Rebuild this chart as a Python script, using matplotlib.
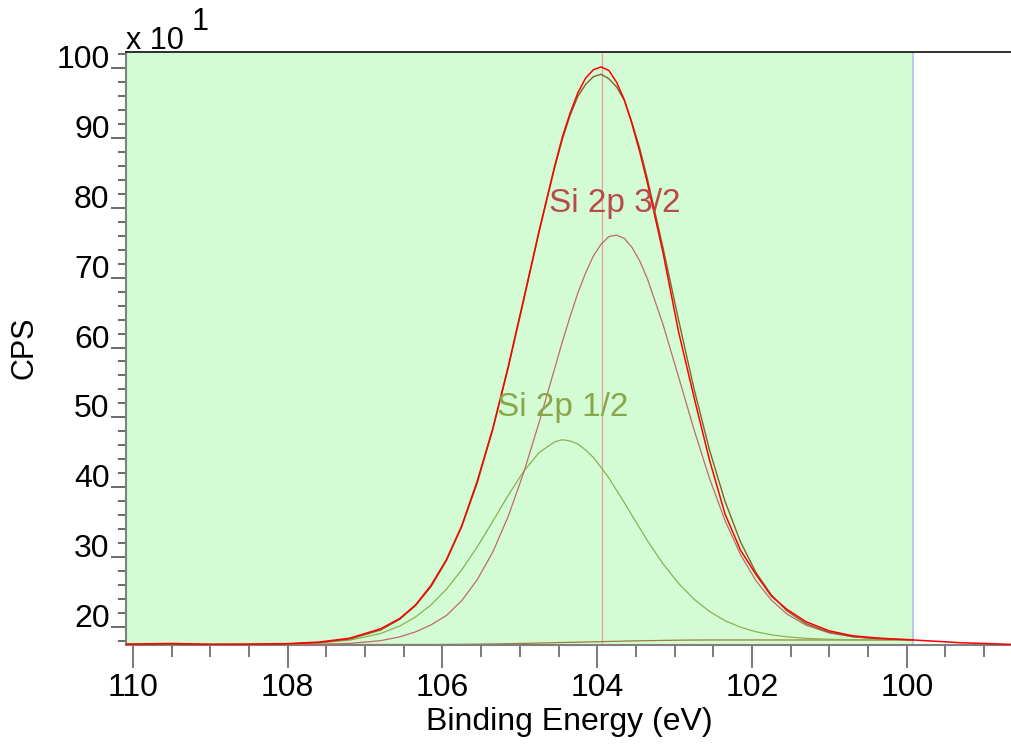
import matplotlib.pyplot as plt
from matplotlib.ticker import MultipleLocator, FuncFormatter

plt.rcParams['font.family'] = ['Liberation Sans', 'DejaVu Sans']

# Binding energy grid (eV) of the fitted region
be = [110.1, 109.5, 109.0, 108.5, 108.0, 107.6, 107.2, 106.8, 106.55, 106.35,
      106.15, 105.95, 105.75, 105.55, 105.35, 105.15, 104.95, 104.75,
      104.55, 104.45, 104.35, 104.25, 104.15, 104.05, 103.95, 103.85, 103.75,
      103.65, 103.55, 103.45, 103.35,
      103.15, 102.95, 102.75, 102.55, 102.35, 102.15, 101.95, 101.75, 101.55,
      101.3, 101.0, 100.7, 100.4, 100.1, 99.92]

# Shirley type background (CPS)
background = [174.5, 174.5, 174.5, 174.5, 174.5, 174.5, 174.5, 174.5, 174.5, 174.5,
              174.5, 174.6, 174.8, 175.0, 175.3, 175.7, 176.1, 176.6,
              177.1, 177.4, 177.6, 177.8, 178.1, 178.4, 178.6, 178.9, 179.1,
              179.4, 179.6, 179.8, 180.0,
              180.4, 180.7, 180.9, 181.0, 181.0, 181.0, 181.0, 181.0, 181.0,
              181.0, 181.0, 181.0, 181.0, 181.0, 181.0]

# Si 2p 3/2 component on top of background (CPS)
si2p32 = [174.5, 174.5, 174.5, 174.5, 174.6, 174.9, 176.1, 180.0, 185.5, 192.5,
          202.5, 216.0, 237.5, 267.5, 307.0, 358.2, 421.0, 493.1,
          570.1, 608.6, 644.5, 678.3, 707.0, 731.3, 748.1, 758.9, 761.1,
          756.3, 743.2, 723.9, 697.9,
          633.1, 558.3, 482.6, 412.6, 352.4, 303.6, 266.0, 238.1, 218.3,
          202.0, 191.0, 185.5, 182.9, 181.7, 181.4]

# Si 2p 1/2 component on top of background (CPS)
si2p12 = [174.5, 174.5, 174.5, 174.7, 175.2, 176.7, 180.7, 190.2, 201.1, 213.9,
          231.1, 253.6, 281.6, 314.5, 351.0, 388.4, 422.7, 449.6,
          464.9, 467.9, 466.1, 461.8, 453.2, 442.5, 428.3, 413.1, 395.4,
          377.9, 359.1, 341.2, 323.0,
          290.2, 262.2, 239.5, 221.9, 208.7, 199.3, 192.8, 188.4, 185.5,
          183.3, 182.0, 181.4, 181.2, 181.1, 181.0]

# Fit envelope (CPS)
envelope = [174.5, 174.5, 174.5, 174.7, 175.3, 177.1, 182.3, 195.2, 210.8, 230.0,
            257.1, 294.3, 343.6, 406.2, 482.4, 570.9, 667.6, 766.1,
            857.9, 898.6, 933.0, 960.0, 977.0, 988.0, 991.5, 985.0, 973.5,
            954.0, 922.0, 885.0, 840.9,
            742.9, 639.8, 541.2, 453.5, 380.1, 321.9, 277.8, 245.5, 222.8,
            204.3, 192.0, 185.9, 183.1, 181.8, 181.4]

# Measured spectrum (CPS)
data_be = be + [99.6, 99.3, 99.0, 98.6]
data_cps = [175.0, 176.0, 174.8, 175.0, 175.8, 178.0, 183.5, 197.0, 212.0, 231.0,
            259.0, 296.0, 345.0, 409.0, 484.0, 573.0, 670.0, 768.0,
            860.0, 902.0, 936.0, 965.0, 986.0, 998.0, 1002.0, 997.0, 980.0,
            955.0, 920.0, 880.0, 835.0,
            736.0, 623.0, 529.0, 439.0, 362.0, 310.0, 275.0, 244.0, 225.0,
            207.0, 194.0, 187.0, 184.0, 182.0, 181.0,
            179.0, 177.0, 176.0, 174.5]

region = (110.2, 99.92)
peak_marker = 103.94
pos32, pos12 = 103.77, 104.45

fig = plt.figure(figsize=(10.12, 7.48), dpi=100)
ax = fig.add_axes([126/1012, 1 - 645/748, 886/1012, 593/748])
ax.set_facecolor('white')

ax.axvspan(region[0], region[1], color='#d4fcd4', lw=0, zorder=0)
ax.axvline(region[1], color='#a8c4ec', lw=1.2, zorder=1)
ax.axvline(peak_marker, color='#e8a0a0', lw=0.9, zorder=1)

ax.plot(be, background, color='#a07a3a', lw=0.9, zorder=2)
ax.plot(be, si2p12, color='#8eb050', lw=0.9, zorder=3)
ax.plot(be, si2p32, color='#c06a6a', lw=0.9, zorder=3)
ax.plot(be, envelope, color='#7d6428', lw=1.0, zorder=4)
ax.plot(data_be, data_cps, color='#ff0000', lw=1.1, zorder=5)

ax.text(pos32, 794.5, 'Si 2p 3/2', color='#b94a4a', fontsize=24,
        ha='center', va='baseline', zorder=6)
ax.text(pos12, 501.9, 'Si 2p 1/2', color='#8aa64a', fontsize=24,
        ha='center', va='baseline', zorder=6)

ax.set_xlim(110.09, 98.64)
ax.set_ylim(173.8, 1023.4)

ax.xaxis.set_major_locator(MultipleLocator(2))
ax.xaxis.set_minor_locator(MultipleLocator(0.5))
ax.yaxis.set_major_locator(MultipleLocator(100))
ax.yaxis.set_minor_locator(MultipleLocator(20))
ax.yaxis.set_major_formatter(FuncFormatter(lambda v, p: f'{v/10:.0f}'))

ax.tick_params(axis='x', which='major', direction='out', length=16.5, width=1.3,
               color='#707070', labelsize=23, pad=4)
ax.tick_params(axis='x', which='minor', direction='out', length=8.5, width=1.3,
               color='#707070')
ax.tick_params(axis='y', which='major', direction='out', length=10.8, width=1.2,
               color='#505050', labelsize=23, pad=1)
ax.tick_params(axis='y', which='minor', direction='out', length=5.5, width=1.2,
               color='#505050')
for lab in ax.get_yticklabels():
    lab.set_va('baseline')

ax.spines['right'].set_visible(False)
ax.spines['top'].set_color('#202020')
ax.spines['top'].set_linewidth(1.3)
for side in ('left', 'bottom'):
    ax.spines[side].set_color('#808080')
    ax.spines[side].set_linewidth(1.5)

fig.text(569/1012, 1 - 722/748, 'Binding Energy (eV)', fontsize=23,
         ha='center', va='center')
fig.text(25/1012, 1 - 347.5/748, 'CPS', fontsize=22, rotation=90,
         ha='center', va='center')
fig.text(126/1012, 1 - 49/748, 'x 10', fontsize=22, va='baseline')
fig.text(192/1012, 1 - 30/748, '1', fontsize=22, va='baseline')

fig.savefig('out.png', dpi=100)
